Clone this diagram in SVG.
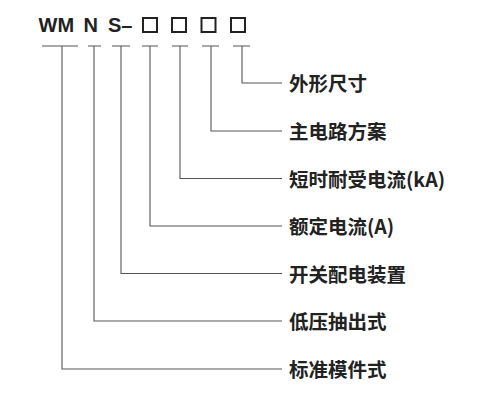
<svg xmlns="http://www.w3.org/2000/svg" width="494" height="410" viewBox="0 0 494 410">
<style>
.hdr{font-family:"Liberation Sans",Arial,sans-serif;font-weight:bold;font-size:20px;fill:#222}
.lbl{font-family:"Noto Sans CJK SC","Noto Sans",sans-serif;font-weight:bold;font-size:19.5px;fill:#222}
.box{fill:none;stroke:#222;stroke-width:2}
.ln{fill:none;stroke:#555;stroke-width:1.1}
</style>
<rect width="494" height="410" fill="#fff"/>
<g id="header">
<text class="hdr" x="38.5" y="32">WM</text>
<text class="hdr" x="83.5" y="32">N</text>
<text class="hdr" x="108" y="32">S–</text>
<rect class="box" x="143" y="18" width="14" height="14"/>
<rect class="box" x="172" y="18" width="14" height="14"/>
<rect class="box" x="201.5" y="18" width="14" height="14"/>
<rect class="box" x="231" y="18" width="14" height="14"/>
</g>
<g id="connectors">
<path class="ln" d="M42,46 H78 M88,46 H101 M112,46 H130 M142,46 H158 M172,46 H188 M202,46 H219 M233,46 H250"/>
<path class="ln" d="M242,46 V83 H282"/>
<path class="ln" d="M211,46 V131 H282"/>
<path class="ln" d="M180,46 V178.5 H282"/>
<path class="ln" d="M150,46 V226 H282"/>
<path class="ln" d="M121,46 V273.5 H282"/>
<path class="ln" d="M94,46 V321 H282"/>
<path class="ln" d="M62,46 V369 H282"/>
</g>
<g id="label-waixing"><text class="lbl" x="289" y="91">外形尺寸</text></g>
<g id="label-zhudianlu"><text class="lbl" x="289" y="139">主电路方案</text></g>
<g id="label-duanshi"><text class="lbl" x="289" y="186.5">短时耐受电流(kA)</text></g>
<g id="label-eding"><text class="lbl" x="289" y="234">额定电流(A)</text></g>
<g id="label-kaiguan"><text class="lbl" x="289" y="281.5">开关配电装置</text></g>
<g id="label-diya"><text class="lbl" x="289" y="329">低压抽出式</text></g>
<g id="label-biaozhun"><text class="lbl" x="289" y="377">标准模件式</text></g>
</svg>
